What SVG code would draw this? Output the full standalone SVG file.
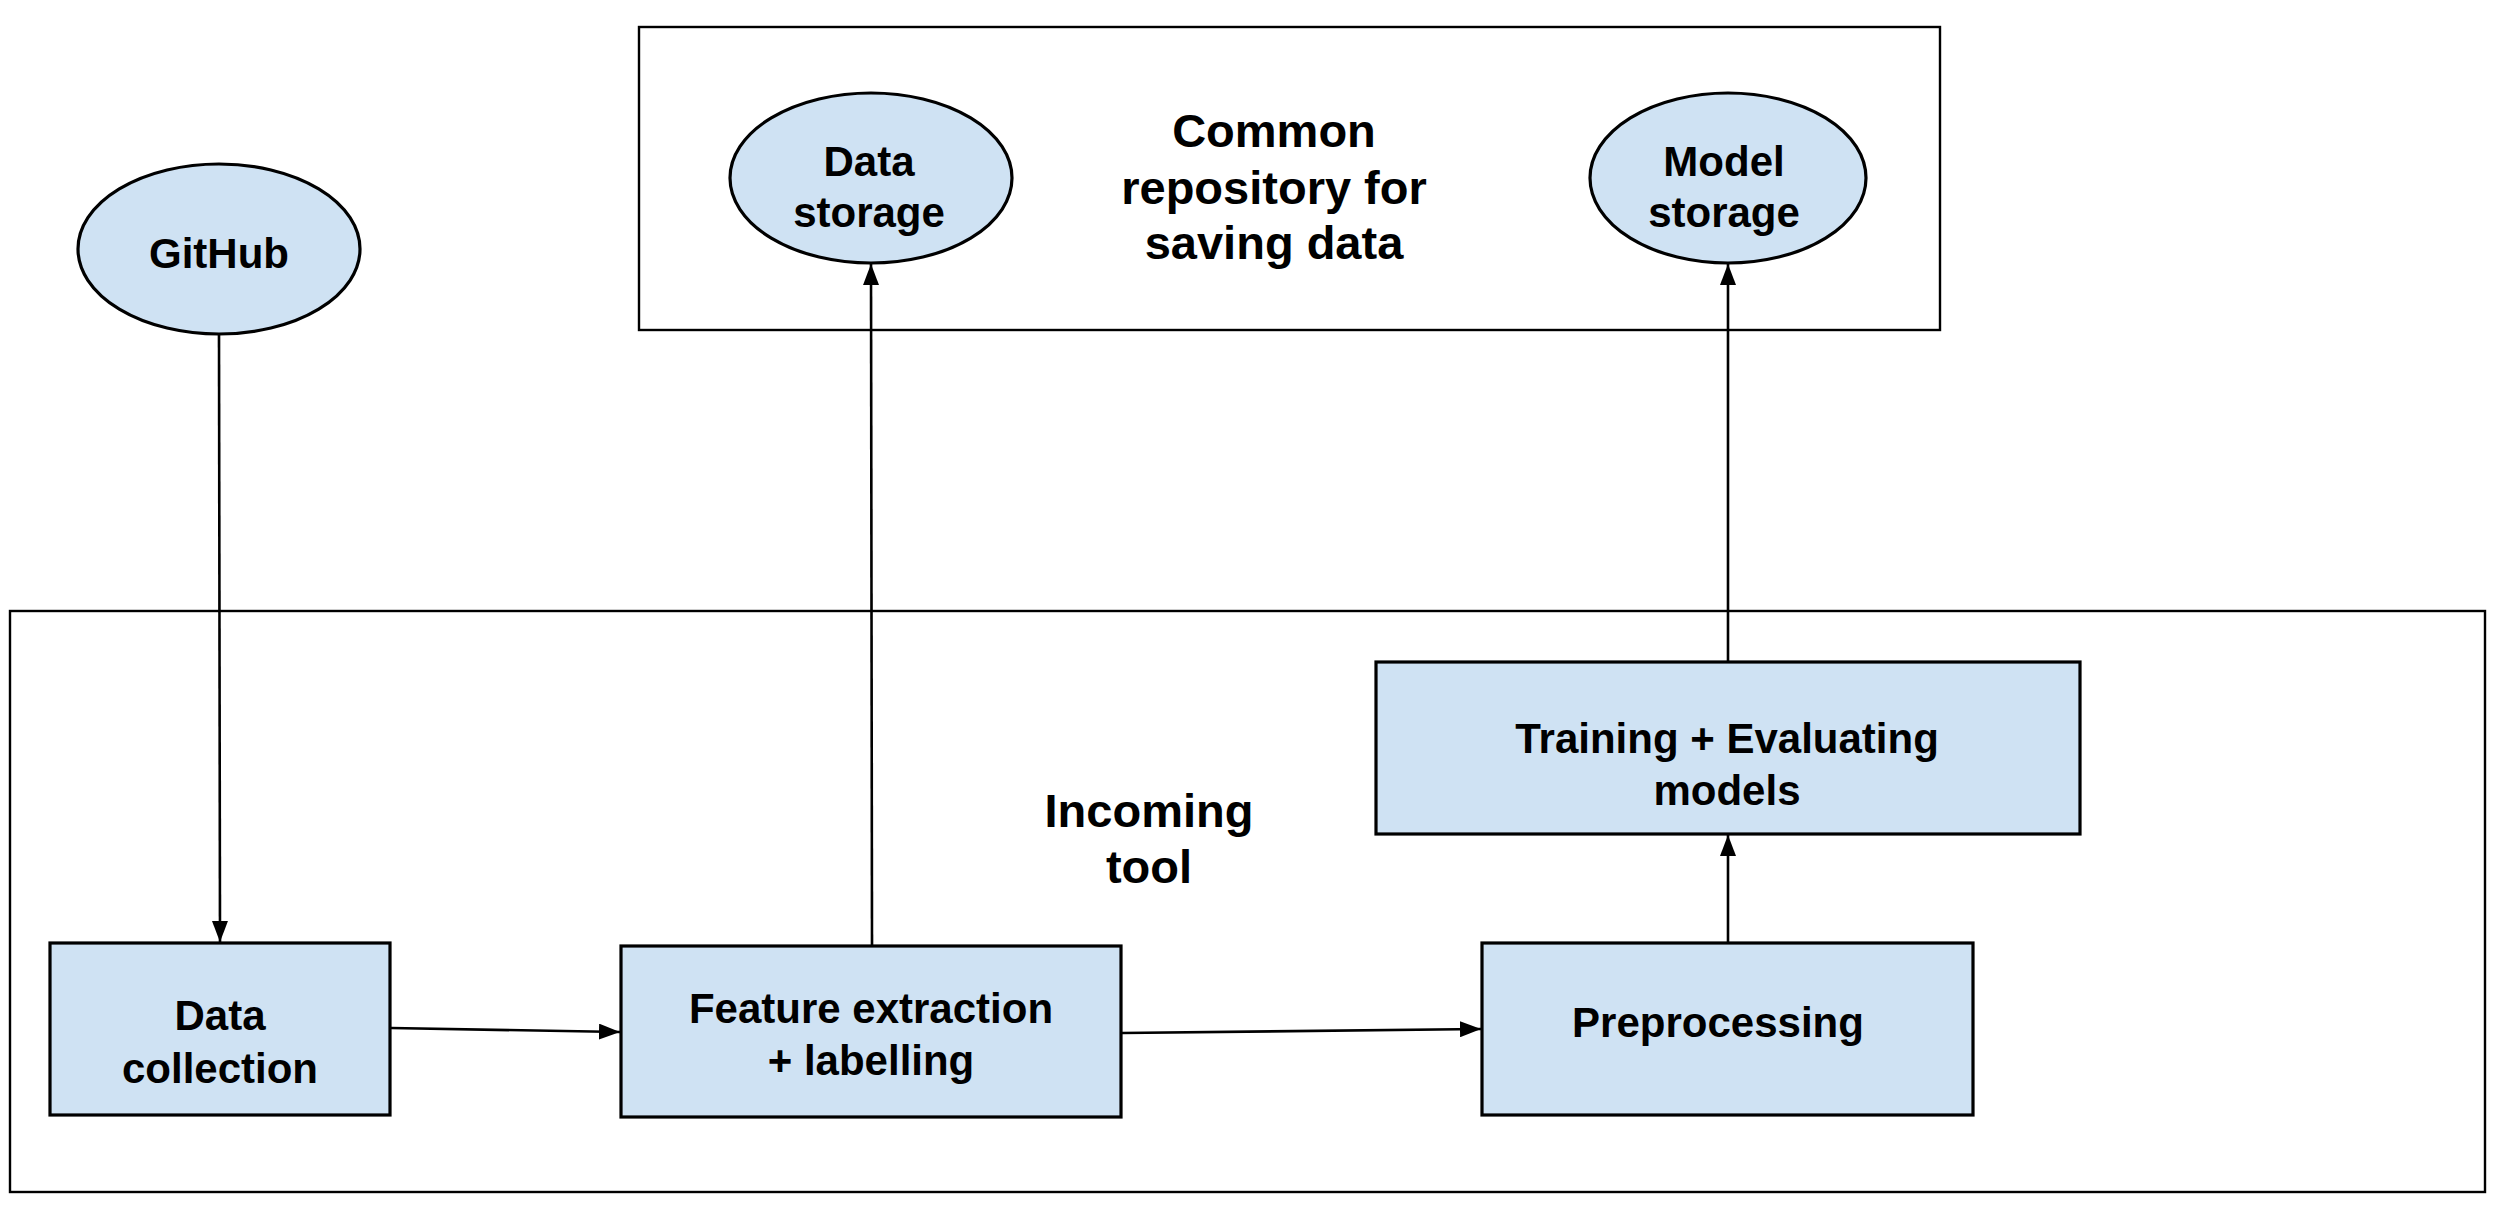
<svg xmlns="http://www.w3.org/2000/svg" width="2500" height="1209" viewBox="0 0 2500 1209">
<style>
.bg{fill:#ffffff}
.container{fill:none;stroke:#000;stroke-width:2.4}
.node{fill:#cfe2f3;stroke:#000;stroke-width:3.2}
.edge{fill:none;stroke:#000;stroke-width:2.6}
text{font-family:"Liberation Sans",Arial,Helvetica,sans-serif;font-weight:bold;fill:#000;text-anchor:middle}
.t{font-size:42px}
.h{font-size:47px}
</style>
<defs>
<marker id="arr" markerUnits="userSpaceOnUse" markerWidth="22" markerHeight="16" refX="21" refY="8" orient="auto">
<path d="M0,0 L21,8 L0,16 z" fill="#000"/>
</marker>
</defs>
<rect class="bg" x="0" y="0" width="2500" height="1209"/>
<g id="repository">
<rect class="container" x="639" y="27" width="1301" height="303"/>
<text class="h" x="1274" y="147">Common</text>
<text class="h" x="1274" y="204">repository for</text>
<text class="h" x="1274" y="259">saving data</text>
</g>
<g id="incoming-tool">
<rect class="container" x="10" y="611" width="2475" height="581"/>
<text class="h" x="1149" y="827">Incoming</text>
<text class="h" x="1149" y="883">tool</text>
</g>
<g id="github">
<ellipse class="node" cx="219" cy="249" rx="141" ry="85"/>
<text class="t" x="219" y="268">GitHub</text>
</g>
<g id="data-storage">
<ellipse class="node" cx="871" cy="178" rx="141" ry="85"/>
<text class="t" x="869" y="176">Data</text>
<text class="t" x="869" y="227">storage</text>
</g>
<g id="model-storage">
<ellipse class="node" cx="1728" cy="178" rx="138" ry="85"/>
<text class="t" x="1724" y="176">Model</text>
<text class="t" x="1724" y="227">storage</text>
</g>
<g id="data-collection">
<rect class="node" x="50" y="943" width="340" height="172"/>
<text class="t" x="220" y="1030">Data</text>
<text class="t" x="220" y="1083">collection</text>
</g>
<g id="feature-extraction">
<rect class="node" x="621" y="946" width="500" height="171"/>
<text class="t" x="871" y="1023">Feature extraction</text>
<text class="t" x="871" y="1075">+ labelling</text>
</g>
<g id="preprocessing">
<rect class="node" x="1482" y="943" width="491" height="172"/>
<text class="t" x="1718" y="1037">Preprocessing</text>
</g>
<g id="training">
<rect class="node" x="1376" y="662" width="704" height="172"/>
<text class="t" x="1727" y="753">Training + Evaluating</text>
<text class="t" x="1727" y="805">models</text>
</g>
<g id="connectors">
<path class="edge" d="M219,335 L220,942" marker-end="url(#arr)"/>
<path class="edge" d="M872,945 L871,264" marker-end="url(#arr)"/>
<path class="edge" d="M391,1028 L620,1032" marker-end="url(#arr)"/>
<path class="edge" d="M1122,1033 L1481,1029" marker-end="url(#arr)"/>
<path class="edge" d="M1728,942 L1728,835" marker-end="url(#arr)"/>
<path class="edge" d="M1728,661 L1728,264" marker-end="url(#arr)"/>
</g>
</svg>
